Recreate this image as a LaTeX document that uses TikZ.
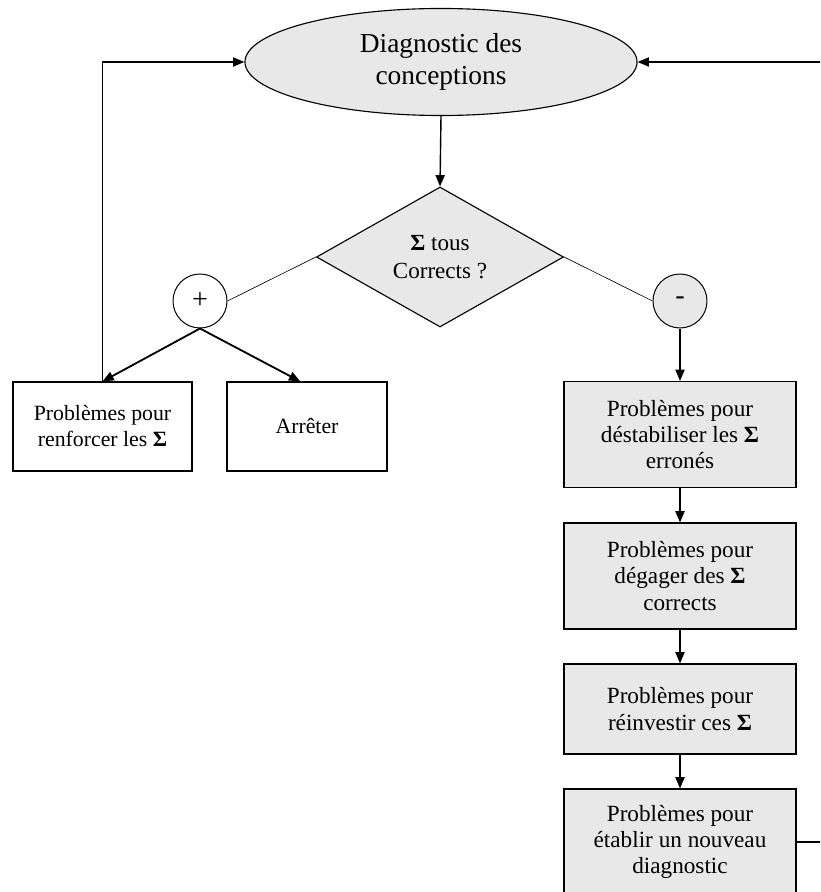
\documentclass[tikz,border=0pt]{standalone}
\usepackage{fontspec}
\setmainfont{Liberation Serif}
\usetikzlibrary{shapes.geometric,arrows.meta}
\definecolor{boxgray}{RGB}{232,232,232}

\begin{document}
\begin{tikzpicture}[x=0.025cm,y=-0.025cm,
  arr/.style={-{Triangle[length=8pt,width=6.5pt]},line width=1pt},
  branch/.style={-{Triangle[length=8pt,width=6.5pt]},line width=1.3pt},
  thinlink/.style={line width=0.45pt},
  pbox/.style={draw,line width=0.8pt,align=center,inner sep=2pt,fill=boxgray,
    minimum width=5.8cm,minimum height=2.65cm,font=\fontsize{16.5}{18.7}\selectfont},
  lbox/.style={pbox,fill=white,minimum height=2.225cm,font=\fontsize{15.5}{18.5}\selectfont},
  sign/.style={circle,draw,line width=0.7pt,inner sep=0pt,minimum size=1.35cm,
    font=\fontsize{20}{22}\selectfont}]
\useasboundingbox (0,0) rectangle (820,892);
\clip (0,0) rectangle (820,892);
\node[ellipse,draw,line width=0.8pt,fill=boxgray,inner sep=0pt,minimum width=9.8cm,
  minimum height=2.675cm,align=center,font=\fontsize{19.5}{22.8}\selectfont]
  (diag) at (441,62) {Diagnostic des\\conceptions};
\node[diamond,draw,line width=0.8pt,fill=boxgray,inner sep=0pt,aspect=1.76,
  minimum width=6.175cm,minimum height=3.5cm,align=center,
  font=\fontsize{16.4}{19.7}\selectfont]
  (test) at (440,257) {\textbf{Σ} tous\\Corrects ?};
\node[sign,fill=white] (plus) at (200,301) {+};
\node[sign,fill=boxgray] (minus) at (680,301) {-};
\node[lbox,minimum width=4.475cm] (renf) at (102.5,426.5) {Problèmes pour\\renforcer les \textbf{Σ}};
\node[lbox,minimum width=4cm] (stop) at (307,426.5) {Arrêter};
\node[pbox] (destab) at (680,434.5) {Problèmes pour\\déstabiliser les \textbf{Σ}\\erronés};
\node[pbox] (degag) at (680,576) {Problèmes pour\\dégager des \textbf{Σ}\\corrects};
\node[pbox,minimum height=2.25cm] (reinv) at (680,709) {Problèmes pour\\réinvestir ces \textbf{Σ}};
\node[pbox] (nouv) at (680,842) {Problèmes pour\\établir un nouveau\\diagnostic};
\coordinate (ret) at (824,842);
% main flow
\draw [arr] (diag.south) -- (test.north);
\draw [thinlink] (test.west) -- (plus.east);
\draw [thinlink] (test.east) -- (minus.west);
\draw [branch] (plus.south) -- (renf.north);
\draw [branch] (plus.south) -- ([xshift=-0.17cm]stop.north);
\draw [arr] (minus) -- (destab);
\foreach \a/\b in {destab/degag,degag/reinv,reinv/nouv}
  \draw [arr] (\a) -- (\b);
% loops back to the diagnostic
\draw [arr] (renf.north) |- (diag.west);
\draw [arr] (nouv.east) -- (ret) |- (diag.east);
\end{tikzpicture}
\end{document}
